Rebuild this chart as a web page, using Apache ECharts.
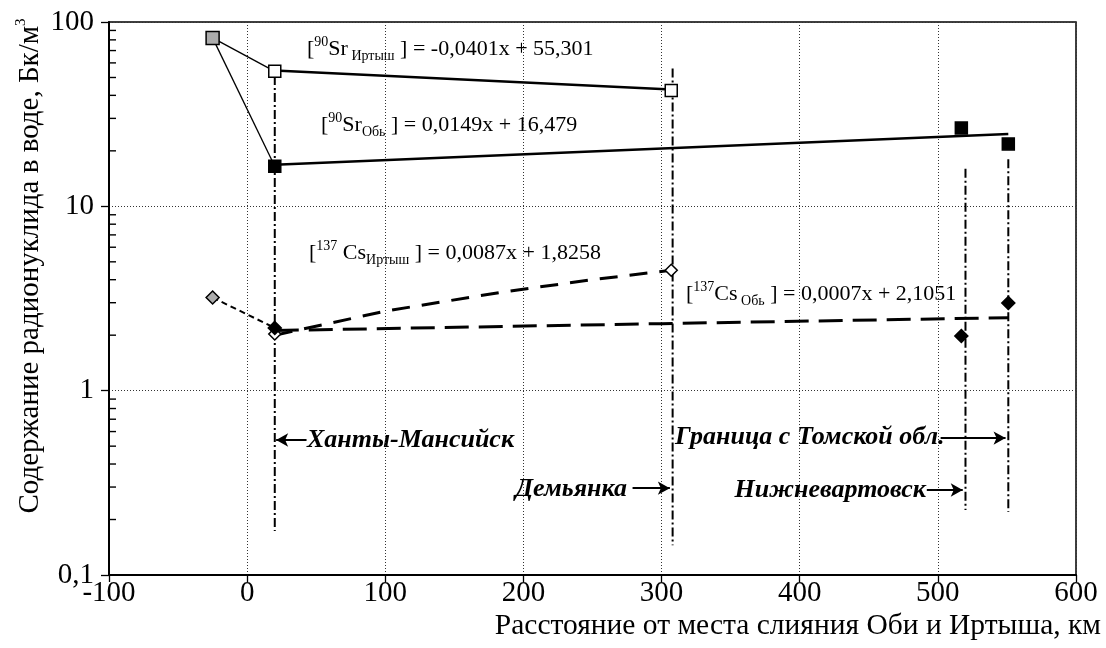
<!DOCTYPE html>
<html>
<head>
<meta charset="utf-8">
<script src="https://cdn.jsdelivr.net/npm/echarts@6/dist/echarts.min.js"></script>
<style>
html, body { margin: 0; background: #fff; }
#chart { width: 1106px; height: 648px; }
</style>
</head>
<body>
<div id="chart"></div>
<script>
// значения
const xTicks = [-100, 600, 100];          // min, max, шаг
const yTicks = [0.1, 100];                // min, max (лог. шкала)
const minorTicks = [0.2, 0.3, 0.4, 0.5, 0.6, 0.7, 0.8, 0.9, 2, 3, 4, 5, 6, 7, 8, 9, 20, 30, 40, 50, 60, 70, 80, 90];

// 90Sr
const srUpstream = [-25, 82];
const srIrtyshPoints = [[20, 54], [307, 42.5]];
const srIrtyshTrend = [[20, 54.5], [307, 43]];
const srObPoints = [[20, 16.5], [517, 26.6], [551, 21.8]];
const srObTrend = [[20, 16.8], [551, 24.7]];

// 137Cs
const csUpstream = [-25, 3.2];
const csIrtyshPoints = [[20, 2.03], [307, 4.5]];
const csIrtyshTrend = [[20, 2.0], [100, 2.7], [185, 3.43], [250, 4.0], [307, 4.5]];
const csObPoints = [[20, 2.19], [517, 1.98], [551, 2.99]];
const csObTrend = [[20, 2.12], [300, 2.31], [551, 2.49]];

// населённые пункты: вертикальная линия и стрелка
const placeNames = ['Ханты-Мансийск', 'Демьянка', 'Нижневартовск', 'Граница с Томской обл.'];
const placeX = [20, 308, 520, 551];
const placeTop = [51, 56, 16, 18];
const placeBottom = [0.173, 0.145, 0.225, 0.22];
const arrowFrom = [[43, 0.54], [279, 0.296], [492, 0.289], [502, 0.553]];
const arrowTo = [[21, 0.54], [306, 0.296], [518, 0.289], [549, 0.553]];

const serif = '"Liberation Serif", "DejaVu Serif", serif';
const black = '#000';

function lineSeries(data, style, z) {
  return {
    type: 'line', data: data, symbol: 'none', silent: true, z: z || 2,
    lineStyle: Object.assign({ color: black, width: 2.5 }, style)
  };
}

function markSeries(data, symbol, size, fill) {
  return {
    type: 'scatter', data: data, symbol: symbol, symbolSize: size, z: 5, silent: true,
    itemStyle: { color: fill, borderColor: black, borderWidth: 1.5, opacity: 1 }
  };
}

const series = [
  // малые деления оси Y
  {
    type: 'scatter', data: minorTicks.map(v => [xTicks[0], v]), symbol: 'rect',
    symbolSize: [7, 1.4], symbolOffset: [3.5, 0], itemStyle: { color: black, opacity: 1 }, silent: true, z: 6
  },
  lineSeries([srUpstream, srIrtyshPoints[0]], { width: 1.3 }),
  lineSeries([srUpstream, srObPoints[0]], { width: 1.3 }),
  lineSeries(srIrtyshTrend, { width: 2.5 }),
  lineSeries(srObTrend, { width: 2.5 }),
  lineSeries([csUpstream, csObPoints[0]], { width: 2, type: [6, 4] }),
  lineSeries(csIrtyshTrend, { width: 3, type: [18, 12] }),
  lineSeries(csObTrend, { width: 3, type: [24, 10] }),
  markSeries([srUpstream], 'rect', 13, '#acacac'),
  markSeries(srIrtyshPoints, 'rect', 12, '#fff'),
  markSeries(srObPoints, 'rect', 12, black),
  markSeries([csUpstream], 'diamond', 13, '#acacac'),
  markSeries(csIrtyshPoints, 'diamond', 12, '#fff'),
  markSeries(csObPoints, 'diamond', 13, black)
];

placeX.forEach((x, i) => {
  const s = lineSeries([[x, placeTop[i]], [x, placeBottom[i]]], { width: 2, type: [9, 3, 2, 3] }, 3);
  s.markLine = {
    silent: true, symbol: ['none', 'arrow'], symbolSize: [10, 12],
    lineStyle: { color: black, width: 2, type: 'solid' }, label: { show: false },
    data: [[{ coord: arrowFrom[i] }, { coord: arrowTo[i] }]]
  };
  series.push(s);
});

const eqRich = {
  m: { fontFamily: serif, fontSize: 22, color: black, lineHeight: 28 },
  sup: { fontFamily: serif, fontSize: 14, color: black, verticalAlign: 'top', lineHeight: 28 },
  sub: { fontFamily: serif, fontSize: 14, color: black, verticalAlign: 'bottom', lineHeight: 23 }
};

function eqText(x, y, text) {
  return { type: 'text', left: x, top: y, silent: true, style: { text: text, rich: eqRich, fill: black } };
}

function placeText(x, y, text, align) {
  return {
    type: 'text', x: x, y: y, silent: true,
    style: {
      text: text, fill: black, fontFamily: serif, fontSize: 26, fontStyle: 'italic', fontWeight: 'bold',
      align: align, verticalAlign: 'middle'
    }
  };
}

const chart = echarts.init(document.getElementById('chart'));
chart.setOption({
  animation: false,
  backgroundColor: '#fff',
  grid: { left: 109, right: 30, top: 22, bottom: 73, show: true, borderColor: black, borderWidth: 1.5 },
  xAxis: {
    type: 'value', min: xTicks[0], max: xTicks[1], interval: xTicks[2],
    axisLine: { onZero: false, lineStyle: { color: black, width: 2 } },
    axisTick: { show: true, length: 7, lineStyle: { color: black, width: 1.3 } },
    axisLabel: { color: black, fontFamily: serif, fontSize: 29, margin: 4 },
    splitLine: { show: true, lineStyle: { color: '#333', width: 1, type: [1, 2] } }
  },
  yAxis: {
    type: 'log', logBase: 10, min: yTicks[0], max: yTicks[1],
    axisLine: { show: true, onZero: false, lineStyle: { color: black, width: 2 } },
    axisTick: { show: true, length: 8, lineStyle: { color: black, width: 1.3 } },
    axisLabel: {
      color: black, fontFamily: serif, fontSize: 29, margin: 15,
      formatter: v => String(v).replace('.', ',')
    },
    splitLine: { show: true, lineStyle: { color: '#333', width: 1, type: [1, 2] } }
  },
  series: series,
  graphic: [
    eqText(307, 35, '{m|[}{sup|90}{m|Sr}{sub| Иртыш}{m| ] = -0,0401x + 55,301}'),
    eqText(321, 111, '{m|[}{sup|90}{m|Sr}{sub|Обь}{m| ] = 0,0149x + 16,479}'),
    eqText(309, 239, '{m|[}{sup|137}{m| Cs}{sub|Иртыш}{m| ] = 0,0087x + 1,8258}'),
    eqText(686, 280, '{m|[}{sup|137}{m|Cs}{sub| Обь}{m| ] = 0,0007x + 2,1051}'),
    placeText(307, 440, placeNames[0], 'left'),
    placeText(627, 489, placeNames[1], 'right'),
    placeText(926, 490, placeNames[2], 'right'),
    placeText(675, 437, placeNames[3], 'left'),
    {
      type: 'text', x: 1101, y: 626, silent: true,
      style: { text: 'Расстояние от места слияния Оби и Иртыша, км', fill: black, fontFamily: serif, fontSize: 29.5, align: 'right', verticalAlign: 'middle' }
    },
    {
      type: 'text', x: 30, y: 266, rotation: Math.PI / 2, silent: true,
      style: {
        text: '{t|Содержание радионуклида в воде, Бк/м}{s|3}', align: 'center', verticalAlign: 'middle',
        rich: {
          t: { fontFamily: serif, fontSize: 29, color: black, lineHeight: 32 },
          s: { fontFamily: serif, fontSize: 15, color: black, verticalAlign: 'top', lineHeight: 32 }
        }
      }
    }
  ]
});
</script>
</body>
</html>
